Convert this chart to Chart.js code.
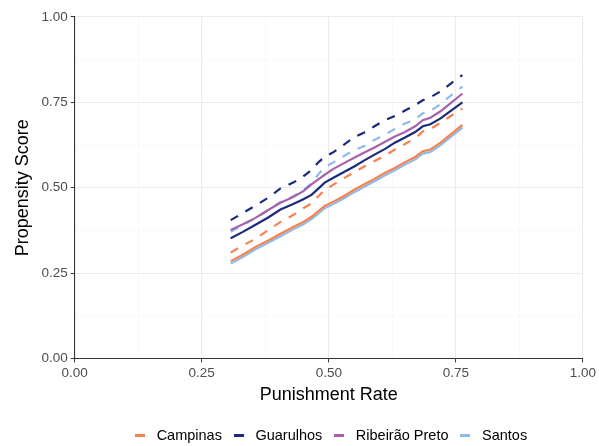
<!DOCTYPE html>
<html>
<head>
<meta charset="utf-8">
<script src="https://cdn.jsdelivr.net/npm/chart.js@4/dist/chart.umd.min.js"></script>
<style>
  html, body { margin: 0; padding: 0; background: #fff; }
  #wrap { width: 599px; height: 446px; }
</style>
</head>
<body>
<div id="wrap"><canvas id="chart" width="599" height="446"></canvas></div>
<script>
// Punishment rate (x) shared by all the curves
const punishRate = [0.307, 0.33, 0.355, 0.38, 0.405, 0.43, 0.45, 0.466, 0.48, 0.492, 0.51, 0.53,
                    0.55, 0.57, 0.59, 0.61, 0.63, 0.65, 0.67, 0.685, 0.70, 0.72, 0.74, 0.763];

// Propensity score per city (solid / dashed)
const campinasSolid = [0.285, 0.303, 0.326, 0.345, 0.365, 0.385, 0.400, 0.415, 0.432, 0.447, 0.460, 0.476,
                       0.494, 0.510, 0.526, 0.543, 0.558, 0.575, 0.590, 0.607, 0.612, 0.632, 0.656, 0.684];
const campinasDashed = [0.310, 0.330, 0.350, 0.375, 0.400, 0.420, 0.440, 0.454, 0.476, 0.493, 0.510, 0.528,
                        0.545, 0.562, 0.578, 0.593, 0.612, 0.628, 0.645, 0.665, 0.672, 0.690, 0.710, 0.732];
const guarulhosSolid = [0.352, 0.370, 0.391, 0.412, 0.436, 0.452, 0.466, 0.479, 0.498, 0.515, 0.530, 0.546,
                        0.562, 0.580, 0.597, 0.613, 0.632, 0.647, 0.663, 0.680, 0.686, 0.703, 0.725, 0.750];
const guarulhosDashed = [0.405, 0.425, 0.447, 0.470, 0.498, 0.515, 0.533, 0.552, 0.575, 0.590, 0.605, 0.626,
                         0.648, 0.662, 0.680, 0.698, 0.710, 0.726, 0.742, 0.756, 0.765, 0.782, 0.805, 0.830];
const ribeiraoSolid = [0.376, 0.392, 0.411, 0.434, 0.456, 0.473, 0.490, 0.510, 0.525, 0.538, 0.556, 0.572,
                       0.588, 0.603, 0.618, 0.634, 0.650, 0.663, 0.680, 0.698, 0.705, 0.724, 0.748, 0.776];
const santosSolid = [0.278, 0.296, 0.319, 0.338, 0.358, 0.378, 0.393, 0.408, 0.425, 0.440, 0.453, 0.469,
                     0.487, 0.503, 0.519, 0.536, 0.551, 0.568, 0.583, 0.600, 0.605, 0.625, 0.649, 0.676];
const santosDashed = [0.371, 0.390, 0.410, 0.433, 0.458, 0.475, 0.493, 0.513, 0.540, 0.560, 0.575, 0.593,
                      0.610, 0.622, 0.640, 0.655, 0.672, 0.688, 0.700, 0.718, 0.725, 0.745, 0.770, 0.796];

const cities = ['Campinas', 'Guarulhos', 'Ribeirão Preto', 'Santos'];
const cityColors = ['#F7824F', '#1C2A7C', '#A862A9', '#8DBBEC'];
const axisTicks = [0, 0.25, 0.5, 0.75, 1];

function pts(ys) {
  return ys.map((y, i) => ({ x: punishRate[i], y: y }));
}

function line(label, ys, color, dashed) {
  return {
    label: label,
    data: pts(ys),
    borderColor: color,
    backgroundColor: color,
    borderWidth: 2.2,
    borderDash: dashed ? [8.5, 8.5] : [],
    borderCapStyle: 'butt',
    pointRadius: 0,
    fill: false,
    tension: 0,
    legendShow: !dashed
  };
}

const datasets = [
  line(cities[0], campinasSolid, cityColors[0], false),
  line(cities[0], campinasDashed, cityColors[0], true),
  line(cities[1], guarulhosSolid, cityColors[1], false),
  line(cities[1], guarulhosDashed, cityColors[1], true),
  line(cities[2], ribeiraoSolid, cityColors[2], false),
  line(cities[3], santosSolid, cityColors[3], false),
  line(cities[3], santosDashed, cityColors[3], true)
];

const FONT = '"Liberation Sans", Arial, sans-serif';
const isMajor = v => axisTicks.some(t => Math.abs(t - v) < 1e-6);

// short legend key, like ggplot's
function keySymbol(color) {
  const c = document.createElement('canvas');
  c.width = 10;
  c.height = 3;
  const g = c.getContext('2d');
  g.fillStyle = color;
  g.fillRect(0, 0, 10, 3);
  return c;
}

function axis(title, titlePad) {
  return {
    type: 'linear',
    min: 0,
    max: 1,
    ticks: {
      stepSize: 0.125,
      autoSkip: false,
      maxRotation: 0,
      color: '#4D4D4D',
      font: { family: FONT, size: 13.5 },
      padding: 3,
      callback: v => isMajor(v) ? v.toFixed(2) : ''
    },
    grid: {
      color: ctx => isMajor(ctx.tick ? ctx.tick.value : 0) ? '#EBEBEB' : '#F5F5F5',
      lineWidth: ctx => isMajor(ctx.tick ? ctx.tick.value : 0) ? 1.1 : 0.6,
      tickColor: ctx => isMajor(ctx.tick ? ctx.tick.value : 0) ? '#333333' : 'rgba(0,0,0,0)',
      tickLength: 4,
      tickWidth: 1
    },
    border: { display: true, color: '#333333', width: 1.1 },
    title: {
      display: true,
      text: title,
      color: '#000',
      font: { family: FONT, size: 18 },
      padding: titlePad
    }
  };
}

// ggplot centres the legend under the panel, not under the whole canvas
const legendUnderPanel = {
  id: 'legendUnderPanel',
  afterLayout(chart) {
    const lg = chart.legend;
    const a = chart.chartArea;
    const dx = (a.left + a.right) / 2 - (lg.left + lg.right) / 2;
    lg.left += dx;
    lg.right += dx;
  }
};

new Chart(document.getElementById('chart').getContext('2d'), {
  type: 'line',
  data: { datasets: datasets },
  options: {
    responsive: false,
    animation: false,
    layout: { padding: { top: 17, right: 16, left: 12, bottom: -7 } },
    scales: {
      x: axis('Punishment Rate', { top: 0, bottom: 15 }),
      y: axis('Propensity Score', { top: 0.5, bottom: 4.3 })
    },
    plugins: {
      tooltip: { enabled: false },
      legend: {
        position: 'bottom',
        labels: {
          color: '#000',
          font: { family: FONT, size: 14.5 },
          usePointStyle: true,
          pointStyleWidth: 19,
          padding: 7.25,
          filter: (item, data) => data.datasets[item.datasetIndex].legendShow,
          generateLabels: chart => {
            const items = Chart.defaults.plugins.legend.labels.generateLabels(chart);
            items.forEach(it => {
              it.pointStyle = keySymbol(chart.data.datasets[it.datasetIndex].borderColor);
              it.lineDash = [];
            });
            return items;
          }
        }
      }
    }
  },
  plugins: [legendUnderPanel]
});
</script>
</body>
</html>
